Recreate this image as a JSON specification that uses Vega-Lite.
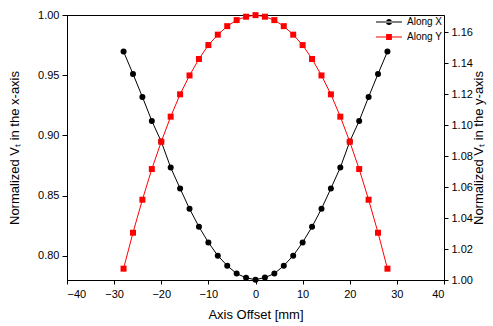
{
  "$schema": "https://vega.github.io/schema/vega-lite/v6.json",
  "width": 377,
  "height": 265,
  "autosize": {"type": "none"},
  "padding": {"left": 67, "top": 15, "right": 49, "bottom": 46},
  "background": "white",
  "config": {
    "font": "Liberation Sans",
    "view": {"stroke": "black", "strokeWidth": 1},
    "axis": {"grid": false, "domainColor": "black", "tickColor": "black", "labelColor": "black", "titleColor": "black", "labelFont": "Liberation Sans", "titleFont": "Liberation Sans", "labelFontSize": 11, "titleFontSize": 13, "titleFontWeight": "normal", "tickSize": 4}
  },
  "data": {
    "values": [
      {"x": -28, "vx": 0.9696, "vy": 1.0073},
      {"x": -26, "vx": 0.9511, "vy": 1.0305},
      {"x": -24, "vx": 0.9320, "vy": 1.0518},
      {"x": -22, "vx": 0.9121, "vy": 1.0716},
      {"x": -20, "vx": 0.8949, "vy": 1.0892},
      {"x": -18, "vx": 0.8734, "vy": 1.1054},
      {"x": -16, "vx": 0.8560, "vy": 1.1198},
      {"x": -14, "vx": 0.8391, "vy": 1.1320},
      {"x": -12, "vx": 0.8242, "vy": 1.1426},
      {"x": -10, "vx": 0.8112, "vy": 1.1516},
      {"x": -8, "vx": 0.8002, "vy": 1.1583},
      {"x": -6, "vx": 0.7919, "vy": 1.1638},
      {"x": -4, "vx": 0.7853, "vy": 1.1677},
      {"x": -2, "vx": 0.7818, "vy": 1.1699},
      {"x": 0, "vx": 0.7803, "vy": 1.1709},
      {"x": 2, "vx": 0.7820, "vy": 1.1699},
      {"x": 4, "vx": 0.7853, "vy": 1.1677},
      {"x": 6, "vx": 0.7919, "vy": 1.1638},
      {"x": 8, "vx": 0.8002, "vy": 1.1583},
      {"x": 10, "vx": 0.8112, "vy": 1.1516},
      {"x": 12, "vx": 0.8242, "vy": 1.1426},
      {"x": 14, "vx": 0.8391, "vy": 1.1320},
      {"x": 16, "vx": 0.8560, "vy": 1.1198},
      {"x": 18, "vx": 0.8734, "vy": 1.1054},
      {"x": 20, "vx": 0.8949, "vy": 1.0892},
      {"x": 22, "vx": 0.9121, "vy": 1.0716},
      {"x": 24, "vx": 0.9320, "vy": 1.0518},
      {"x": 26, "vx": 0.9511, "vy": 1.0305},
      {"x": 28, "vx": 0.9696, "vy": 1.0073}
    ]
  },
  "encoding": {
    "x": {"field": "x", "type": "quantitative", "scale": {"domain": [-40, 40], "nice": false}, "axis": {"values": [-40, -30, -20, -10, 0, 10, 20, 30, 40], "title": "Axis Offset [mm]", "titlePadding": 9, "labelPadding": 4}}
  },
  "layer": [
    {
      "layer": [
        {"mark": {"type": "line", "color": "black", "strokeWidth": 1}, "encoding": {"y": {"field": "vx", "type": "quantitative"}}},
        {"mark": {"type": "point", "filled": true, "shape": "circle", "size": 36, "opacity": 1, "color": "black"}, "encoding": {"y": {"field": "vx", "type": "quantitative"}}}
      ],
      "encoding": {"y": {"scale": {"domain": [0.78, 1.0], "nice": false, "zero": false}, "axis": {"orient": "left", "values": [0.8, 0.85, 0.9, 0.95, 1.0], "format": ".2f", "title": "Normalized Vₜ in the x-axis", "titlePadding": 16, "labelPadding": 3, "tickSize": 5}}}
    },
    {
      "layer": [
        {"mark": {"type": "line", "color": "#ff0000", "strokeWidth": 1}, "encoding": {"y": {"field": "vy", "type": "quantitative"}}},
        {"mark": {"type": "square", "color": "#ff0000", "filled": true, "size": 36, "opacity": 1}, "encoding": {"y": {"field": "vy", "type": "quantitative"}}}
      ],
      "encoding": {"y": {"scale": {"domain": [1.0, 1.171], "nice": false, "zero": false}, "axis": {"orient": "right", "values": [1.0, 1.02, 1.04, 1.06, 1.08, 1.1, 1.12, 1.14, 1.16], "format": ".2f", "title": "Normalized Vₜ in the y-axis", "titleAngle": 270, "titlePadding": 13, "labelPadding": 3, "tickSize": 4}}}
    },
    {
      "transform": [{"calculate": "datum.x < 0 ? 'Along X' : 'Along Y'", "as": "series"}, {"filter": "datum.x > 1000"}],
      "mark": {"type": "point", "filled": true, "opacity": 1},
      "encoding": {
        "color": {"field": "series", "type": "nominal", "scale": {"domain": ["Along X", "Along Y"], "range": ["black", "#ff0000"]},
          "legend": {"orient": "none", "legendX": 312, "legendY": -3, "title": null, "padding": 0, "labelFontSize": 10, "labelFont": "Liberation Sans", "labelColor": "black", "rowPadding": -18, "symbolSize": 400, "labelOffset": 8, "symbolStrokeWidth": 0, "symbolOpacity": 1}},
        "shape": {"field": "series", "type": "nominal", "scale": {"domain": ["Along X", "Along Y"], "range": ["M-1.3,-0.05H1.3V0.05H-1.3ZM-0.31,0A0.31,0.31 0 1,0 0.31,0A0.31,0.31 0 1,0 -0.31,0Z", "M-1.3,-0.05H1.3V0.05H-1.3ZM-0.29,-0.29H0.29V0.29H-0.29Z"]},
          "legend": {"orient": "none", "legendX": 312, "legendY": -3, "title": null, "padding": 0, "labelFontSize": 10, "labelFont": "Liberation Sans", "labelColor": "black", "rowPadding": -18, "symbolSize": 400, "labelOffset": 8, "symbolStrokeWidth": 0, "symbolOpacity": 1}}
      }
    }
  ],
  "resolve": {"scale": {"y": "independent"}}
}
